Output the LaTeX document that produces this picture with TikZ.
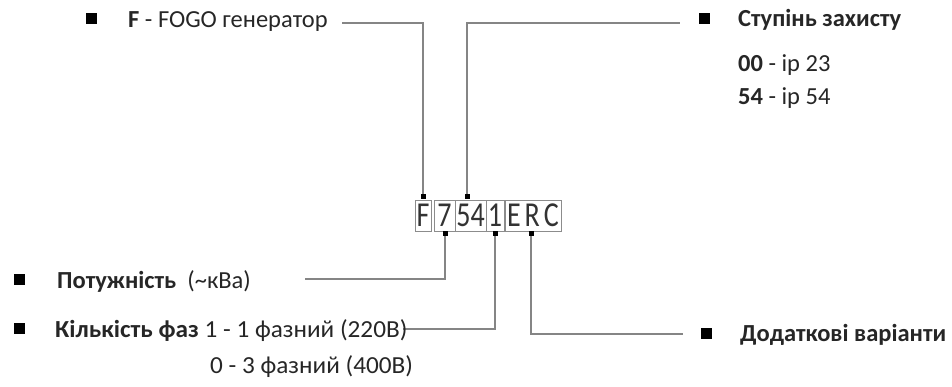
\documentclass[tikz,border=0pt]{standalone}
\usepackage{fontspec}
\setmainfont{Carlito}
\usetikzlibrary{calc}
\pgfdeclarelayer{background}
\pgfsetlayers{background,main}
\begin{document}
\begin{tikzpicture}[x=1pt,y=-1pt,
  bul/.style={fill=black, minimum size=11pt, inner sep=0pt},
  lbl/.style={anchor=base west, inner sep=0pt, font=\fontsize{24.5}{28}\selectfont, text=black!85},
  code/.style={draw=black!45, line width=0.9pt, minimum height=31pt, inner sep=0pt, font=\fontsize{35}{35}\selectfont, text=black!80},
  pin/.style={fill=black, minimum size=5pt, inner sep=0pt},
  conn/.style={draw=black!48, line width=1.5pt}]
\useasboundingbox (0,0) rectangle (952,387);

% code boxes
\node[code, minimum width=16pt] (bF)   at (423,215.5) {\scalebox{0.8}[1]{F}};
\node[code, minimum width=21pt] (b7)   at (444.5,215.5) {\scalebox{0.8}[1]{7}};
\node[code, minimum width=31pt] (b54)  at (470.5,215.5) {\scalebox{0.8}[1]{54}};
\node[code, minimum width=18pt] (b1)   at (495,215.5) {\scalebox{0.8}[1]{1}};
\node[code, minimum width=56pt] (bERC) at (533,215.5) {\scalebox{0.8}[1]{E\kern5pt R\kern5pt C}};

% pins
\node[pin] (pF)  at (423,197) {};
\node[pin] (p54) at (467,197) {};
\node[pin] (p7)  at (445,234) {};
\node[pin] (p1)  at (495,234) {};
\node[pin] (pR)  at (531,234) {};

% bullets
\node[bul] (uF) at (91,19) {};
\node[bul] (uS) at (704,19) {};
\node[bul] (uP) at (19,279) {};
\node[bul] (uK) at (19,328) {};
\node[bul] (uD) at (706,333) {};

% labels
\node[lbl] (tF)  at (128,28)  {\textbf{F} - FOGO генератор};
\node[lbl] (tS)  at (738,27)  {\textbf{Ступінь захисту}};
\node[lbl] (t00) at (738,72)  {\textbf{00} - ip 23};
\node[lbl] (t54) at (738,105) {\textbf{54} - ip 54};
\node[lbl] (tP)  at (57,288)  {\textbf{Потужність}\ \ (\textasciitilde кВа)};
\node[lbl] (tK)  at (55,337)  {\scalebox{1.03}[1]{\textbf{Кількість фаз} 1 - 1 фазний (220В)}};
\node[lbl] (t03) at (210,373) {\scalebox{1.03}[1]{0 - 3 фазний (400В)}};
\node[lbl] (tD)  at (740,341) {\textbf{Додаткові варіанти}};

% connector ends
\coordinate (eF) at (342,23);
\coordinate (eS) at (680,23);
\coordinate (eP) at (305,279);
\coordinate (eK) at (403,329);
\coordinate (eD) at (683,334);

\begin{pgfonlayer}{background}
\draw[conn] (pF.center) |- (eF);
\draw[conn] (p54.center) |- (eS);
\draw[conn] (p7.center) |- (eP);
\draw[conn] (p1.center) |- (eK);
\draw[conn] (pR.center) |- (eD);
\end{pgfonlayer}
\end{tikzpicture}
\end{document}
